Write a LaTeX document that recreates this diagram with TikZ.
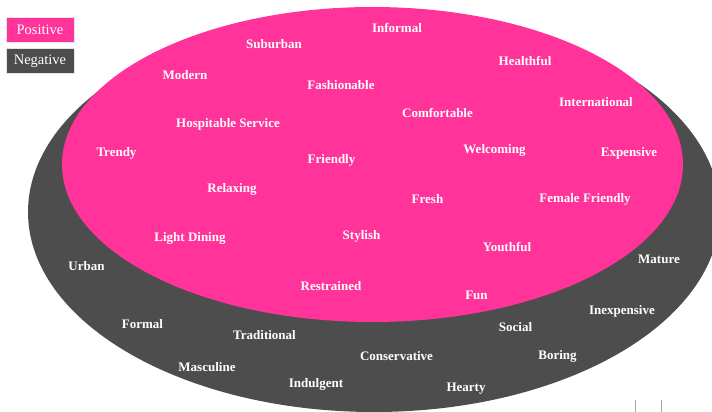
\documentclass[tikz,border=0pt]{standalone}
\usepackage{fontspec}
\setmainfont{Liberation Serif}
\definecolor{pinkfill}{HTML}{FF3399}
\definecolor{darkfill}{HTML}{4D4D4D}
\begin{document}
\begin{tikzpicture}[x=1pt,y=-1pt,
  word/.style={text=white,font=\fontsize{13}{15}\selectfont\bfseries,inner sep=0pt},
  legend/.style={minimum width=68pt,minimum height=25pt,inner sep=0pt,text=white,font=\fontsize{14.5}{16}\selectfont,draw=white!80!gray,line width=0.5pt}]
\useasboundingbox (0,0) rectangle (712,412);
\fill[white] (0,0) rectangle (712,412);
% ellipses
\begin{scope}
\clip (0,0) rectangle (712,412);
\fill[darkfill] (374,212) ellipse [x radius=346, y radius=200];
\fill[pinkfill] (372.5,164.5) ellipse [x radius=310.5, y radius=157.5];
\end{scope}
% legend
\node[legend,fill=pinkfill] (pos) at (40,30) {Positive};
\node[legend,fill=darkfill] (neg) at (40,61) {Negative};
% positive words
\node[word] (informal) at (397,28) {Informal};
\node[word] (suburban) at (274,44) {Suburban};
\node[word] (healthful) at (525,61) {Healthful};
\node[word] (modern) at (185,75) {Modern};
\node[word] (fashionable) at (341,85) {Fashionable};
\node[word] (comfortable) at (437.5,112.5) {Comfortable};
\node[word] (international) at (596,102) {International};
\node[word] (hospitable) at (228,124) {Hospitable Service};
\node[word] (trendy) at (116.5,153.5) {Trendy};
\node[word] (friendly) at (331.5,160.5) {Friendly};
\node[word] (welcoming) at (494.5,150) {Welcoming};
\node[word] (expensive) at (629,153.5) {Expensive};
\node[word] (relaxing) at (232,189) {Relaxing};
\node[word] (fresh) at (427.5,199) {Fresh};
\node[word] (female) at (585,199) {Female Friendly};
\node[word] (light) at (190,238.5) {Light Dining};
\node[word] (stylish) at (361.5,236.5) {Stylish};
\node[word] (youthful) at (507,247) {Youthful};
\node[word] (restrained) at (331,286) {Restrained};
\node[word] (fun) at (476.5,295.5) {Fun};
% negative words
\node[word] (urban) at (86.5,266) {Urban};
\node[word] (mature) at (659,259.5) {Mature};
\node[word] (formal) at (142.5,324.5) {Formal};
\node[word] (inexpensive) at (622,311.5) {Inexpensive};
\node[word] (traditional) at (264.5,335) {Traditional};
\node[word] (social) at (515.5,327.5) {Social};
\node[word] (conservative) at (396.5,356) {Conservative};
\node[word] (boring) at (557.5,356.5) {Boring};
\node[word] (masculine) at (207,367) {Masculine};
\node[word] (indulgent) at (316,384.5) {Indulgent};
\node[word] (hearty) at (466,389) {Hearty};
% small marks at bottom
\draw[gray!70,line width=0.6pt] (635,400) -- (635,412);
\draw[gray!70,line width=0.6pt] (661.7,400) -- (661.7,412);
\end{tikzpicture}
\end{document}
